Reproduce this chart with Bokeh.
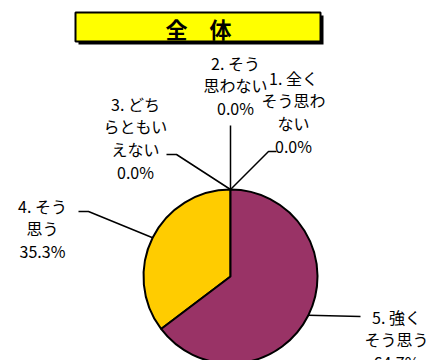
import numpy as np
from bokeh.plotting import figure
from bokeh.models import Range1d
from bokeh.core.properties import value
from bokeh.embed import file_html
from bokeh.resources import INLINE

# ---- data ----
title_text = "全\u3000体"
categories = ["1. 全くそう思わない", "2. そう思わない", "3. どちらともいえない", "4. そう思う", "5. 強くそう思う"]
label_lines = [
    ["1. 全く", "そう思わ", "ない"],
    ["2. そう", "思わない"],
    ["3. どち", "らともい", "えない"],
    ["4. そう", "思う"],
    ["5. 強く", "そう思う"],
]
percents = [0.0, 0.0, 0.0, 35.3, 64.7]
colors = ["#3366CC", "#FF6600", "#66CC66", "#FFCC00", "#993366"]

# ---- layout (screen pixel coords of the 430x360 page) ----
W, H = 430, 360
def Y(sy):
    return H - sy

cx, cy, R = 230, 276, 87
FONT = value("Noto Sans CJK JP")

p = figure(width=W, height=H, output_backend="svg", toolbar_location=None,
           x_range=Range1d(0, W), y_range=Range1d(0, H), min_border=0)
p.axis.visible = False
p.grid.visible = False
p.outline_line_color = None
p.background_fill_color = "white"
p.border_fill_color = "white"

# title box with shadow
bx0, bx1, by0, by1 = 75, 320, 12, 41
p.quad(left=bx0 + 3, right=bx1 + 3, top=Y(by0 + 3), bottom=Y(by1 + 3),
       fill_color="black", line_color=None)
p.quad(left=bx0, right=bx1, top=Y(by0), bottom=Y(by1),
       fill_color="#FFFF00", line_color="black", line_width=2)
p.text(x=[198], y=[Y(27)], text=[title_text], text_font=FONT, text_font_size="22px",
       text_font_style="bold", text_align="center", text_baseline="middle", text_color="black")

# pie
total = sum(percents)
fr = np.array(percents) / total
cum = np.concatenate([[0], np.cumsum(fr)])
starts = np.pi / 2 + cum[:-1] * 2 * np.pi
ends = np.pi / 2 + cum[1:] * 2 * np.pi
for i in range(len(percents)):
    if percents[i] > 0:
        p.wedge(x=[cx], y=[Y(cy)], radius=R, start_angle=[starts[i]], end_angle=[ends[i]],
                direction="anticlock", fill_color=colors[i], line_color="black", line_width=2)

mids = (starts + ends) / 2
def anchor(i):
    a = mids[i]
    return cx + R * np.cos(a), Y(cy) + R * np.sin(a)

# leader lines: elbow / end points (screen coords)
leaders = [
    [(268, 151), (276, 151)],
    [(230, 125)],
    [(176, 154), (166, 154)],
    [(88, 211), (78, 211)],
    [(360, 316)],
]
for i, pts in enumerate(leaders):
    ax, ay = anchor(i)
    xs = [ax] + [q[0] for q in pts]
    ys = [ay] + [Y(q[1]) for q in pts]
    p.line(xs, ys, line_color="black", line_width=1.5)

# labels: centre x, first line centre y, line step
label_pos = [(293, 77), (235, 62), (135, 103), (42, 205), (396, 316)]
step = 22.8
for i, lines in enumerate(label_lines):
    lx, ly = label_pos[i]
    all_lines = lines + ["%.1f%%" % percents[i]]
    for j, t in enumerate(all_lines):
        p.text(x=[lx], y=[Y(ly + j * step)], text=[t], text_font=FONT, text_font_size="16px",
               text_align="center", text_baseline="middle", text_color="black")

open("out.html", "w").write(file_html(p, INLINE))
